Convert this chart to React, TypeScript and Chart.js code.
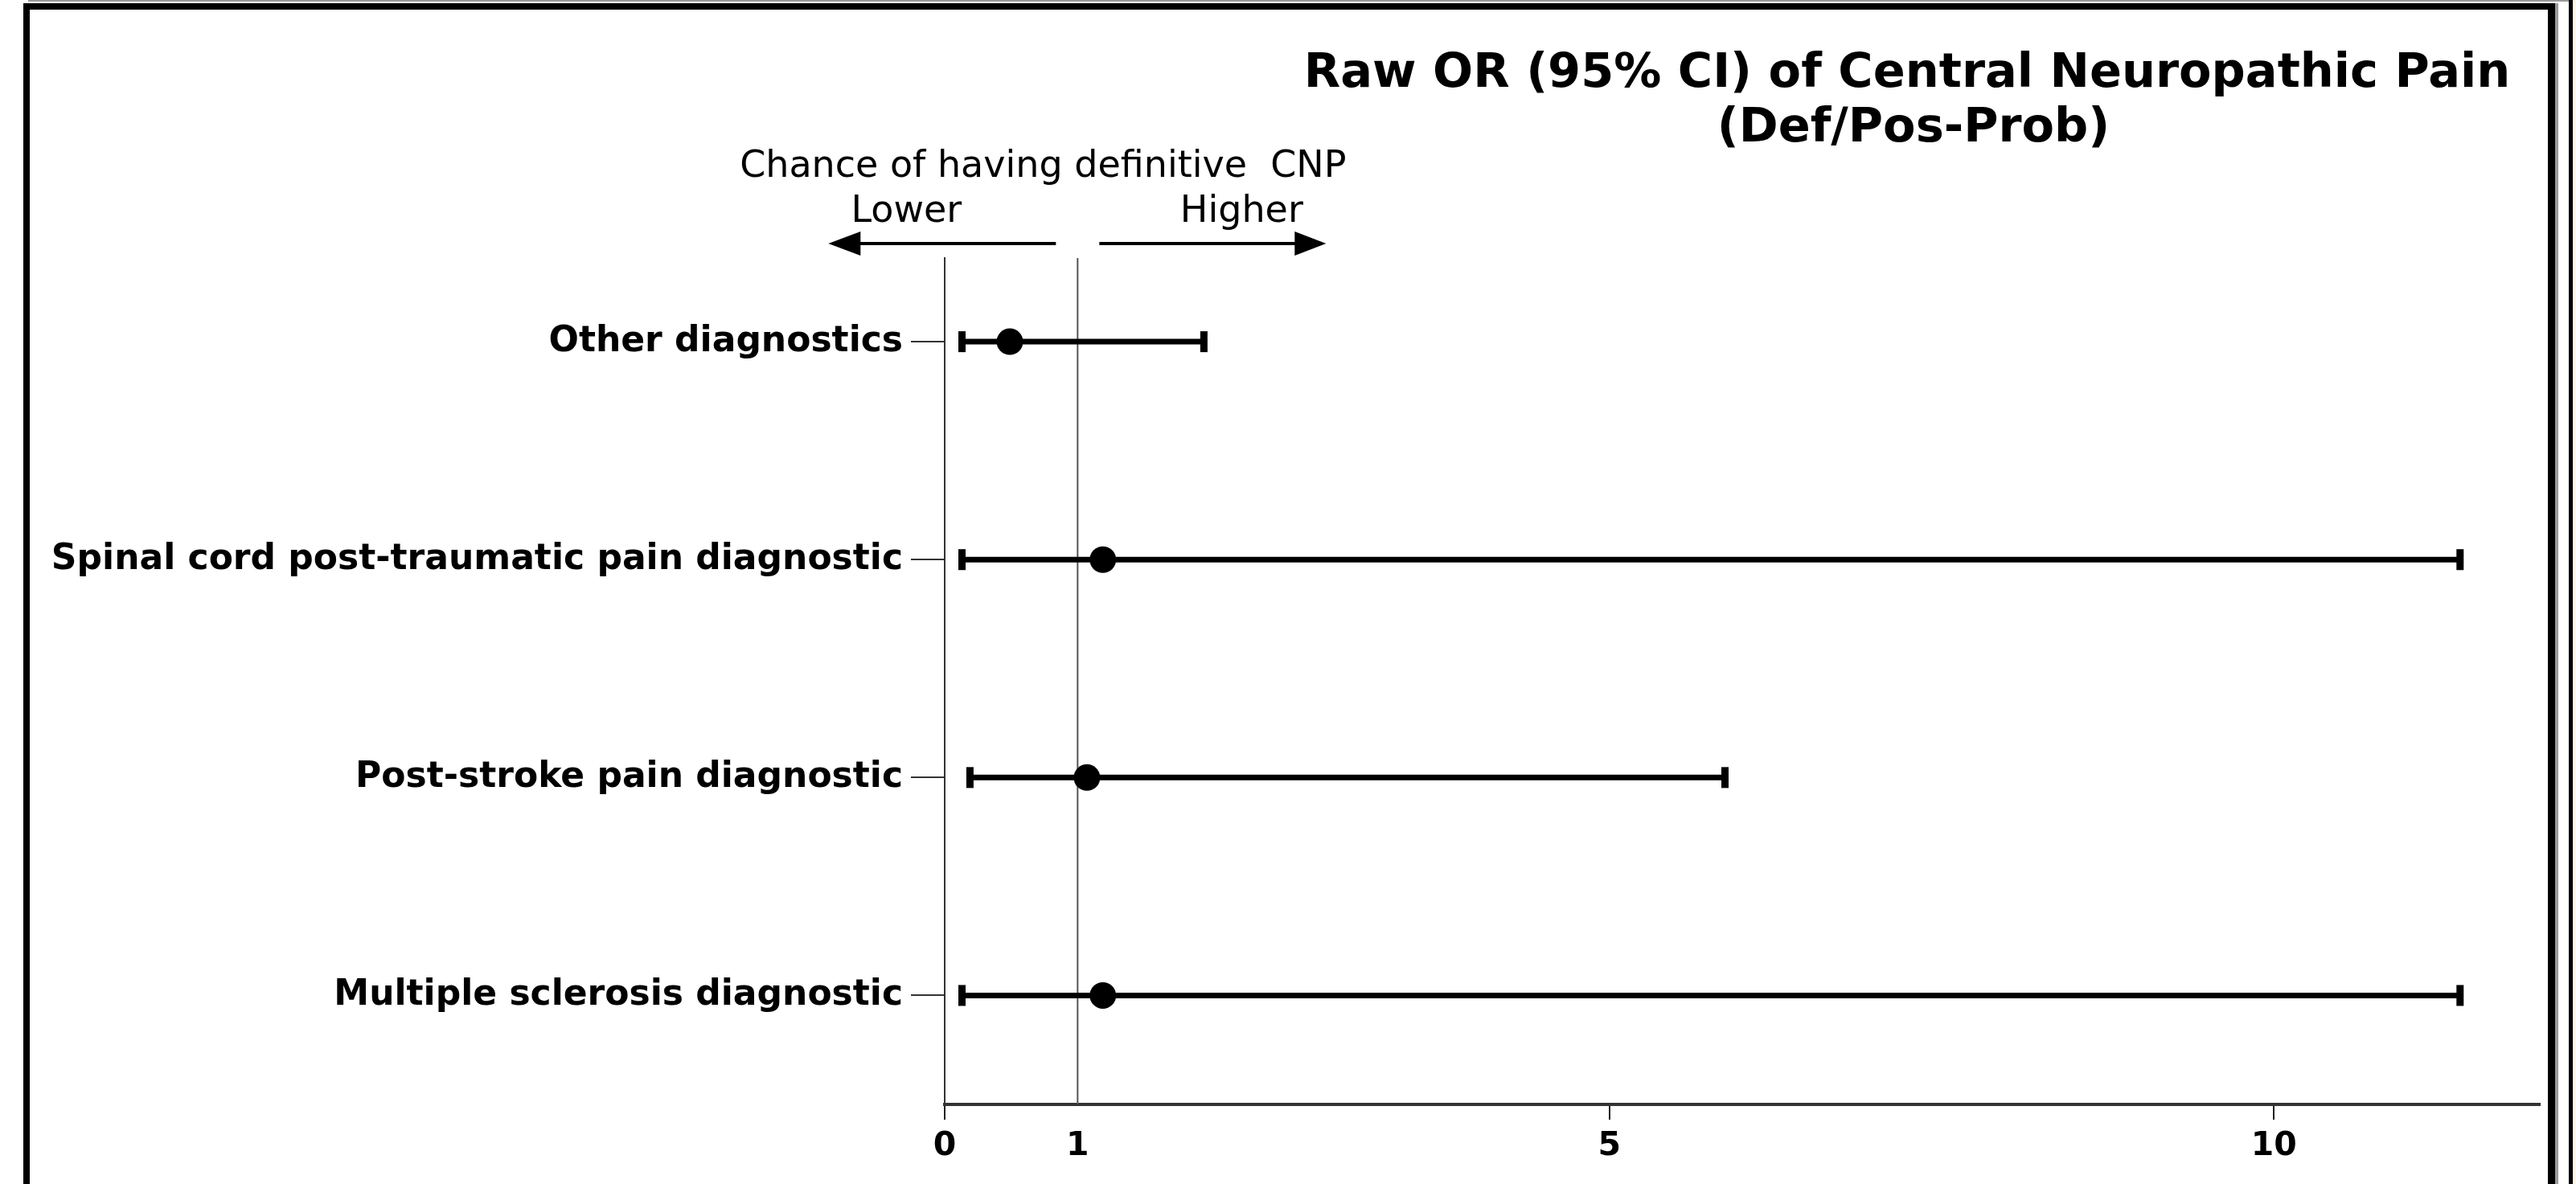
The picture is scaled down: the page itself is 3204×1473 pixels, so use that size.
import React, { useEffect, useRef } from "react";
import { Chart, registerables } from "chart.js";

Chart.register(...registerables);

// ---------- data ----------
const categories = [
  "Multiple sclerosis diagnostic",
  "Post-stroke pain diagnostic",
  "Spinal cord post-traumatic pain diagnostic",
  "Other diagnostics",
];
const rowPositions = [1, 2, 3, 4];
const oddsRatio = [1.19, 1.07, 1.19, 0.49];
const ciLower = [0.13, 0.19, 0.13, 0.13];
const ciUpper = [11.4, 5.87, 11.4, 1.95];
const xTickValues = [0, 1, 5, 10];
const referenceOR = 1;
const titleLines = ["Raw OR (95% CI) of Central Neuropathic Pain", "(Def/Pos-Prob)"];
const directionCaption = "Chance of having definitive  CNP";
const lowerLabel = "Lower";
const higherLabel = "Higher";

// ---------- layout / style ----------
const W = 3204;
const H = 1473;
const X_MIN = 0;
const X_MAX = 12;
const Y_MIN = 0.5;
const Y_MAX = 4.384;
const FONT = '"DejaVu Sans", "Liberation Sans", Arial, sans-serif';

const framePlugin = {
  id: "frame",
  beforeDraw(chart: any) {
    const ctx = chart.ctx;
    ctx.save();
    ctx.fillStyle = "#ffffff";
    ctx.fillRect(0, 0, W, H);
    ctx.fillStyle = "#9a9a9a";
    ctx.fillRect(35, 0, W - 35, 2);
    ctx.fillStyle = "#000000";
    ctx.fillRect(29, 4, 8, H);
    ctx.fillRect(29, 4, 3150, 8);
    ctx.fillRect(3169, 4, 9, H);
    ctx.fillStyle = "#9a9a9a";
    ctx.fillRect(3178, 4, 4, H);
    ctx.fillStyle = "#000000";
    ctx.fillRect(3195, 0, 5, H);
    ctx.fillStyle = "#fff8e6";
    ctx.fillRect(3200, 0, 4, H);
    ctx.restore();
  },
};

const annotationPlugin = {
  id: "annotations",
  afterDraw(chart: any) {
    const ctx = chart.ctx;
    const xs = chart.scales.x;
    const ref = xs.getPixelForValue(referenceOR);
    ctx.save();
    ctx.fillStyle = "#000";
    ctx.strokeStyle = "#000";
    ctx.textAlign = "center";
    ctx.textBaseline = "alphabetic";
    // title
    ctx.font = `bold 59px ${FONT}`;
    ctx.fillText(titleLines[0], 2372, 108);
    ctx.fillText(titleLines[1], 2380, 176);
    // direction caption
    ctx.font = `46px ${FONT}`;
    ctx.fillText(directionCaption, ref - 43, 220);
    ctx.fillText(lowerLabel, ref - 213, 276);
    ctx.fillText(higherLabel, ref + 204, 276);
    // arrows
    const ay = 303;
    ctx.lineWidth = 4;
    ctx.beginPath();
    ctx.moveTo(ref - 27, ay);
    ctx.lineTo(ref - 272, ay);
    ctx.moveTo(ref + 27, ay);
    ctx.lineTo(ref + 272, ay);
    ctx.stroke();
    ctx.beginPath();
    ctx.moveTo(ref - 310, ay);
    ctx.lineTo(ref - 270, ay - 15);
    ctx.lineTo(ref - 270, ay + 15);
    ctx.closePath();
    ctx.fill();
    ctx.beginPath();
    ctx.moveTo(ref + 309, ay);
    ctx.lineTo(ref + 270, ay - 15);
    ctx.lineTo(ref + 270, ay + 15);
    ctx.closePath();
    ctx.fill();
    ctx.restore();
  },
};

export default function App() {
  const canvasRef = useRef<HTMLCanvasElement | null>(null);

  useEffect(() => {
    const canvas = canvasRef.current;
    if (!canvas) return;

    const ciDatasets = categories.map((_, i) => ({
      label: categories[i],
      data: [
        { x: ciLower[i], y: rowPositions[i] },
        { x: ciUpper[i], y: rowPositions[i] },
      ],
      showLine: true,
      borderColor: "#000",
      borderWidth: 7,
      pointStyle: "line",
      pointRotation: 90,
      pointRadius: 13,
      pointBorderWidth: 9,
      pointBorderColor: "#000",
      pointBackgroundColor: "#000",
      order: 5,
    }));

    const chart = new Chart(canvas, {
      type: "scatter",
      data: {
        datasets: [
          {
            label: "Odds ratio",
            data: oddsRatio.map((v, i) => ({ x: v, y: rowPositions[i] })),
            pointRadius: 16.5,
            pointStyle: "circle",
            backgroundColor: "#000",
            borderColor: "#000",
            borderWidth: 0,
            order: 0,
          },
          ...ciDatasets,
          {
            label: "Reference",
            data: [
              { x: referenceOR, y: Y_MIN },
              { x: referenceOR, y: Y_MAX },
            ],
            showLine: true,
            borderColor: "#555",
            borderWidth: 2,
            pointRadius: 0,
            order: 10,
          },
        ] as any,
      },
      options: {
        animation: false,
        responsive: false,
        devicePixelRatio: 1,
        layout: { padding: { top: 321, right: 45, left: 0, bottom: 0 } },
        plugins: {
          legend: { display: false },
          title: { display: false },
          tooltip: { enabled: false },
        },
        scales: {
          x: {
            type: "linear",
            position: "bottom",
            min: X_MIN,
            max: X_MAX,
            afterBuildTicks: (scale: any) => {
              scale.ticks = xTickValues.map((v) => ({ value: v }));
            },
            afterFit: (scale: any) => {
              scale.height = 99;
            },
            grid: {
              drawOnChartArea: false,
              drawTicks: true,
              tickLength: 19,
              lineWidth: 2,
              color: "#222",
              tickColor: (c: any) =>
                c.tick && c.tick.value === referenceOR ? "rgba(0,0,0,0)" : "#222",
            },
            border: { display: true, color: "#333", width: 4 },
            ticks: {
              color: "#000",
              font: { family: FONT, weight: "bold", size: 41 },
              padding: 9,
              maxRotation: 0,
              autoSkip: false,
              callback: (v: any) => String(v),
            },
          },
          y: {
            type: "linear",
            position: "left",
            min: Y_MIN,
            max: Y_MAX,
            afterBuildTicks: (scale: any) => {
              scale.ticks = rowPositions.map((v) => ({ value: v }));
            },
            afterFit: (scale: any) => {
              scale.width = 1175;
            },
            grid: {
              drawOnChartArea: false,
              drawTicks: true,
              tickLength: 42,
              lineWidth: 2,
              color: "#333",
            },
            border: { display: true, color: "#333", width: 2 },
            ticks: {
              color: "#000",
              font: { family: FONT, weight: "bold", size: 44 },
              padding: 10,
              autoSkip: false,
              callback: (v: any) => {
                const idx = rowPositions.indexOf(Number(v));
                return idx >= 0 ? categories[idx] : "";
              },
            },
          },
        },
      } as any,
      plugins: [framePlugin, annotationPlugin],
    });

    return () => {
      chart.destroy();
    };
  }, []);

  return (
    <div style={{ position: "fixed", left: 0, top: 0, width: W, height: H, background: "#fff" }}>
      <canvas ref={canvasRef} width={W} height={H} style={{ width: W, height: H, display: "block" }} />
    </div>
  );
}
